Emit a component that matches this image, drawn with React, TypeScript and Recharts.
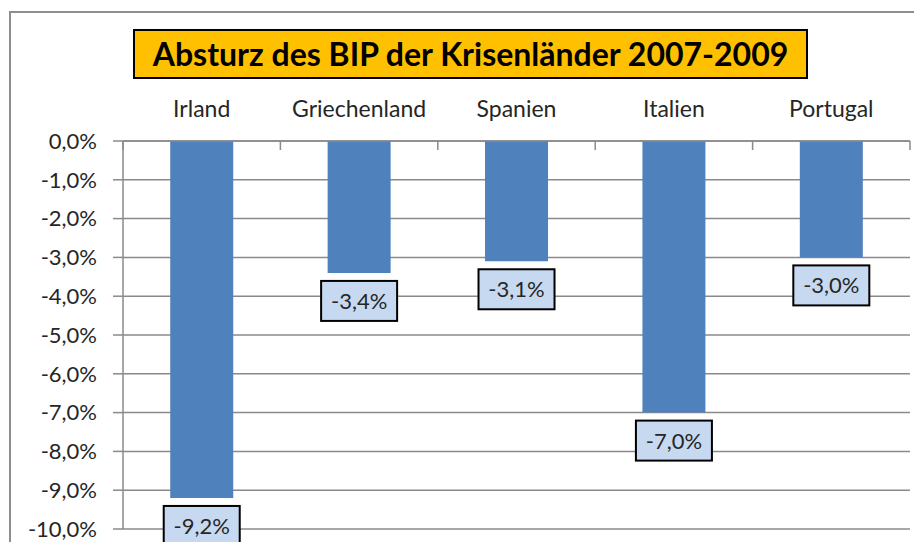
import React from 'react';
import { BarChart, Bar, XAxis, YAxis, CartesianGrid, LabelList } from 'recharts';

const countries = ['Irland', 'Griechenland', 'Spanien', 'Italien', 'Portugal'];
const gdpChange = [-9.2, -3.4, -3.1, -7.0, -3.0];
const yTicks = [0, -1, -2, -3, -4, -5, -6, -7, -8, -9, -10];

const data = countries.map((name, i) => ({ name, value: gdpChange[i] }));

const FONT = 'Lato, "Open Sans", sans-serif';
const TEXT = '#262626';
const GRID = '#8a8a8a';
const BAR = '#4F81BD';
const TICK_SIZE = 0;
const TICK_MARGIN = 24;

const fmt = (v: number) => `${v.toFixed(1).replace('.', ',')}%`;

// category label plus the short boundary ticks hanging below the top axis line
const CategoryTick = (props: any) => {
  const { x, y, payload, index } = props;
  const half = payload.offset || 0;
  const top = y + TICK_SIZE + TICK_MARGIN;
  return (
    <g>
      <text x={x} y={y} textAnchor="middle" fill={TEXT} fontSize={23} fontFamily={FONT}>
        {payload.value}
      </text>
      <line x1={x - half} x2={x - half} y1={top} y2={top + 9} stroke={GRID} strokeWidth={1.5} />
      {index === countries.length - 1 && (
        <line x1={x + half} x2={x + half} y1={top} y2={top + 9} stroke={GRID} strokeWidth={1.5} />
      )}
    </g>
  );
};

const ValueBox = (props: any) => {
  const { x, y, width, height, value } = props;
  const bottom = Math.max(y, y + height);
  const cx = x + width / 2;
  const w = 76;
  const h = 40;
  const top = bottom + 8;
  return (
    <g>
      <rect x={cx - w / 2} y={top} width={w} height={h} fill="#C6D9F1" stroke="#000" strokeWidth={2} />
      <text x={cx} y={top + h / 2 + 8} textAnchor="middle" fill={TEXT} fontSize={22} fontFamily={FONT}>
        {fmt(value)}
      </text>
    </g>
  );
};

export default function App() {
  return (
    <div style={{ position: 'relative', width: 922, height: 550, margin: -8, overflow: 'hidden', background: '#fff' }}>
      <div
        style={{
          position: 'absolute',
          left: 9,
          top: 11,
          width: 940,
          height: 560,
          border: '2px solid #8e8e8e'
        }}
      />
      <div style={{ position: 'absolute', left: 0, top: 0 }}>
        <BarChart
          width={922}
          height={550}
          data={data}
          margin={{ top: 0, right: 12, left: 8, bottom: 21 }}
          barCategoryGap="30%"
        >
          <CartesianGrid vertical={false} stroke={GRID} strokeWidth={1.5} />
          <XAxis
            dataKey="name"
            orientation="top"
            height={141}
            axisLine={{ stroke: GRID, strokeWidth: 1.5 }}
            tickLine={false}
            tickSize={TICK_SIZE}
            tickMargin={TICK_MARGIN}
            tick={<CategoryTick />}
            interval={0}
          />
          <YAxis
            type="number"
            domain={[-10, 0]}
            ticks={yTicks}
            interval={0}
            width={115}
            tickSize={10}
            tickMargin={16}
            tickFormatter={fmt}
            axisLine={{ stroke: GRID, strokeWidth: 1.5 }}
            tickLine={{ stroke: GRID, strokeWidth: 1.5 }}
            tick={{ fill: TEXT, fontSize: 22, fontFamily: FONT }}
          />
          <Bar dataKey="value" fill={BAR} isAnimationActive={false}>
            <LabelList dataKey="value" content={<ValueBox />} />
          </Bar>
        </BarChart>
      </div>
      <div
        style={{
          position: 'absolute',
          left: 133,
          top: 29,
          width: 671,
          height: 46,
          background: '#FFC000',
          border: '2px solid #000',
          fontFamily: FONT,
          fontWeight: 'bold',
          fontSize: 32,
          lineHeight: '46px',
          textAlign: 'center',
          color: '#000'
        }}
      >
        Absturz des BIP der Krisenländer 2007-2009
      </div>
    </div>
  );
}
